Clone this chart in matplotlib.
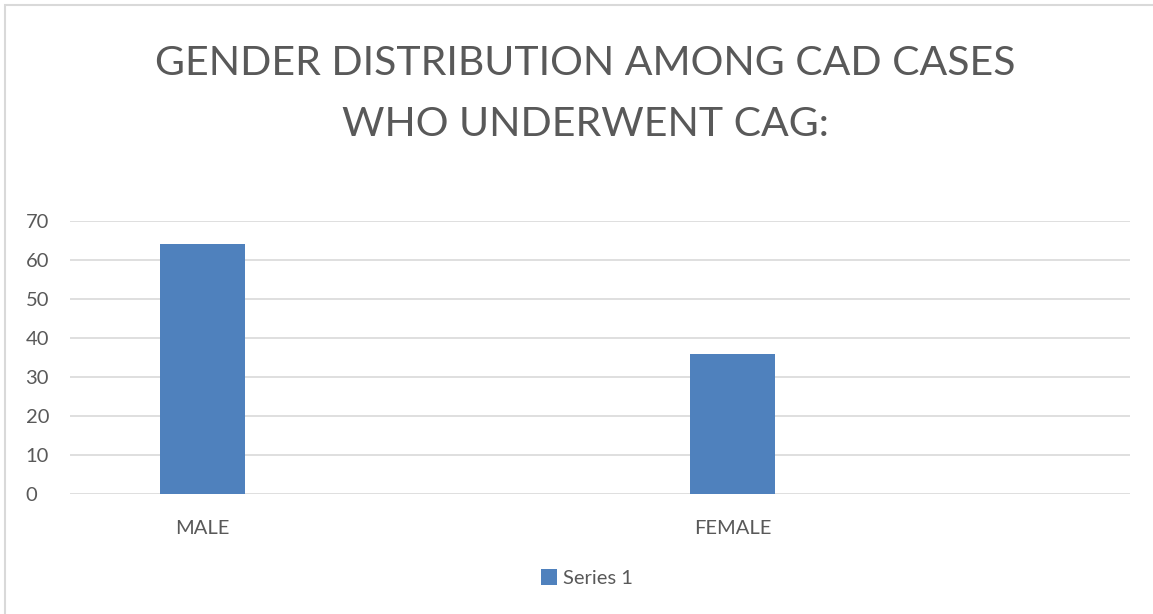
import numpy as np
import matplotlib.pyplot as plt
from matplotlib.patches import Rectangle

# Excel-style chart: 4 category slots, two of them empty
categories = ["MALE", "", "FEMALE", ""]
values = [64, np.nan, 36, np.nan]
series_name = "Series 1"
title = "GENDER DISTRIBUTION AMONG CAD CASES\nWHO UNDERWENT CAG:"

plt.rcParams['font.family'] = ['Lato', 'DejaVu Sans']
grey = "#595959"

fig = plt.figure(figsize=(11.53, 6.14), dpi=100)
W, H = 1153, 614

# chart border
fig.patches.append(Rectangle((5 / W, -0.1), 1.2, (1 - 5 / H) + 0.1,
                             transform=fig.transFigure, fill=False,
                             edgecolor="#D9D9D9", linewidth=1.5))

ax = fig.add_axes([70 / W, 1 - 494 / H, (1130 - 70) / W, (494 - 221) / H])
x = np.arange(len(categories))
ax.bar(x, values, width=0.32, color="#4F81BD", label=series_name, zorder=3)

ax.set_xlim(-0.5, len(categories) - 0.5)
ax.set_ylim(0, 70)
ax.set_yticks(np.arange(0, 71, 10))
ax.set_xticks(x)
ax.set_xticklabels(categories)
ax.grid(axis="y", color="#D9D9D9", linewidth=1.2, zorder=0)
for s in ax.spines.values():
    s.set_visible(False)
ax.tick_params(length=0, labelsize=14.5, colors=grey, pad=0)
ax.tick_params(axis="y", pad=32)
ax.tick_params(axis="x", pad=19)
for lab in ax.get_yticklabels():
    lab.set_horizontalalignment("left")

fig.text(585 / W, 1 - 94 / H, title, ha="center", va="center",
         fontsize=29.5, color=grey, linespacing=1.8)

fig.legend(loc="center", bbox_to_anchor=(587 / W, 1 - 578 / H), frameon=False,
           fontsize=14.5, labelcolor=grey, handlelength=0.8, handleheight=0.8,
           handletextpad=0.3)

fig.savefig("out.png", dpi=100, facecolor="white")
